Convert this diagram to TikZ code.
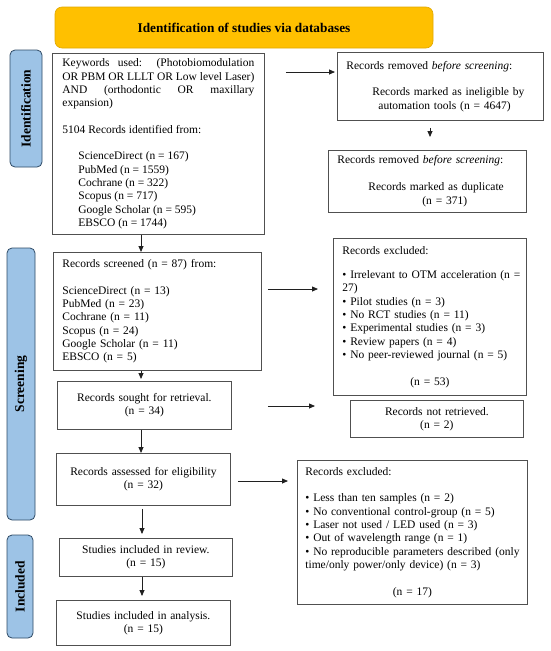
\documentclass[tikz,border=0pt]{standalone}
\usepackage{fontspec}
\setmainfont{Liberation Serif}
\usetikzlibrary{arrows.meta}
\definecolor{boxline}{HTML}{505050}
\definecolor{arrline}{HTML}{202020}
\definecolor{barfill}{HTML}{9DC3E6}
\definecolor{barline}{HTML}{2E4A66}
\definecolor{hdrfill}{HTML}{FFC000}
\definecolor{hdrline}{HTML}{E0A800}
\begin{document}
\begin{tikzpicture}[x=1pt,y=-1pt,
  box/.style={draw=boxline, line width=0.8pt, fill=white, inner ysep=0pt,
    anchor=north west, font=\fontsize{11.5}{13.3}\selectfont},
  bar/.style={draw=barline, fill=barfill, line width=0.8pt, rounded corners=5pt,
    rotate=90, inner sep=0pt, font=\fontsize{13.5}{15}\selectfont\bfseries},
  hdr/.style={draw=hdrline, fill=hdrfill, line width=0.6pt, rounded corners=7pt,
    font=\fontsize{13.3}{15}\selectfont\bfseries},
  arr/.style={draw=arrline, line width=0.8pt, -{Triangle[length=6pt,width=5pt]}}]
\useasboundingbox[fill=white] (0,0) rectangle (550,651);

% header
\node[hdr, minimum width=378pt, minimum height=41pt] (hd) at (244,27.5) {Identification of studies via databases};

% side bars
\node[bar, minimum width=117pt, minimum height=32pt] (idbar) at (26,108.5) {Identification};
\node[bar, minimum width=272pt, minimum height=28pt] (scbar) at (21,384) {Screening};
\node[bar, minimum width=103pt, minimum height=26pt] (inbar) at (20,586.5) {Included};

% left column
\node[box, minimum width=212pt, minimum height=181pt, inner xsep=10pt, text width=192pt, align=justify] (b1) at (52,53)
 {Keywords used: (Photobiomodulation\linebreak OR PBM OR LLLT OR Low level Laser)\linebreak AND (orthodontic OR maxillary\linebreak expansion)\\[13.3pt]
  5104 Records identified from:\\[13.3pt]
  \hspace*{16pt}ScienceDirect (n = 167)\\
  \hspace*{16pt}PubMed (n = 1559)\\
  \hspace*{16pt}Cochrane (n = 322)\\
  \hspace*{16pt}Scopus (n = 717)\\
  \hspace*{16pt}Google Scholar (n = 595)\\
  \hspace*{16pt}EBSCO (n = 1744)};

\node[box, minimum width=208pt, minimum height=118pt, inner xsep=9pt, text width=190pt, align=left] (b2) at (53,252)
 {Records screened (n = 87) from:\\[13.3pt]
  ScienceDirect (n = 13)\\
  PubMed (n = 23)\\
  Cochrane (n = 11)\\
  Scopus (n = 24)\\
  Google Scholar (n = 11)\\
  EBSCO (n = 5)};

\node[box, minimum width=174pt, minimum height=48pt, text width=164pt, align=center] (b3) at (57,381)
 {Records sought for retrieval.\\(n = 34)};
\node[box, minimum width=174pt, minimum height=52pt, text width=164pt, align=center] (b4) at (56,453)
 {Records assessed for eligibility\\(n = 32)};
\node[box, minimum width=173pt, minimum height=38pt, text width=163pt, align=center] (b5) at (59,538)
 {Studies included in review.\\(n = 15)};
\node[box, minimum width=174pt, minimum height=45pt, text width=164pt, align=center] (b6) at (56,600)
 {Studies included in analysis.\\(n = 15)};

% right column
\node[box, minimum width=206pt, minimum height=68pt, inner xsep=9pt, text width=188pt, align=left] (r1) at (337,52)
 {Records removed \textit{before screening}:\\[13.3pt]
  \hspace*{26pt}Records marked as ineligible by\\
  \hspace*{32pt}automation tools (n = 4647)};

\node[box, minimum width=198pt, minimum height=62pt, inner xsep=9pt, text width=180pt, align=left] (r2) at (328,150)
 {Records removed \textit{before screening}:\\[13.3pt]
  \hspace*{31pt}Records marked as duplicate\\[1.5pt]
  \hspace*{85pt}(n = 371)};

\node[box, minimum width=193pt, minimum height=157pt, inner xsep=9pt, text width=175pt, align=left] (r3) at (333,238)
 {Records excluded:\\[11pt]
  \mbox{• Irrelevant to OTM acceleration (n =}\\
  27)\\
  • Pilot studies (n = 3)\\
  • No RCT studies (n = 11)\\
  • Experimental studies (n = 3)\\
  • Review papers (n = 4)\\
  \mbox{• No peer-reviewed journal (n = 5)}\\[13.3pt]
  \makebox[175pt]{(n = 53)}};

\node[box, minimum width=173pt, minimum height=37pt, text width=163pt, align=center] (r4) at (350,400)
 {Records not retrieved.\\(n = 2)};

\node[box, minimum width=230pt, minimum height=144pt, inner xsep=8pt, text width=214pt, align=left] (r5) at (297,460)
 {Records excluded:\\[13.3pt]
  • Less than ten samples (n = 2)\\
  \mbox{• No conventional control-group (n = 5)}\\
  • Laser not used / LED used (n = 3)\\
  • Out of wavelength range (n = 1)\\
  \mbox{• No reproducible parameters described (only}\\
  \mbox{time/only power/only device) (n = 3)}\\[13.3pt]
  \makebox[214pt]{(n = 17)}};

% connectors, left column
\draw[arr] (b1.south -| 141,0) -- (b2.north -| 141,0);
\draw[arr, shorten >=2pt] (b2.south -| 141,0) -- (b3.north -| 141,0);
\draw[arr] (b3.south -| 141,0) -- (b4.north -| 141,0);
\draw[arr, shorten <=3pt, shorten >=4pt] (b4.south -| 142,0) -- (b5.north -| 142,0);
\draw[arr, shorten >=4pt] (b5.south -| 142,0) -- (b6.north -| 142,0);

% connectors, to the right
\draw[arr, shorten <=21pt, shorten >=2pt] (b1.east |- 0,72) -- (r1.west |- 0,72);
\draw[arr, shorten <=7pt, shorten >=13pt] (r1.south -| 430,0) -- (r2.north -| 430,0);
\draw[arr, shorten <=6pt, shorten >=15pt] (b2.east |- 0,289) -- (r3.west |- 0,289);
\draw[arr, shorten <=36pt, shorten >=35pt] (b3.east |- 0,406) -- (r4.west |- 0,406);
\draw[arr, shorten <=7pt, shorten >=9pt] (b4.east |- 0,481) -- (r5.west |- 0,481);
\end{tikzpicture}
\end{document}
